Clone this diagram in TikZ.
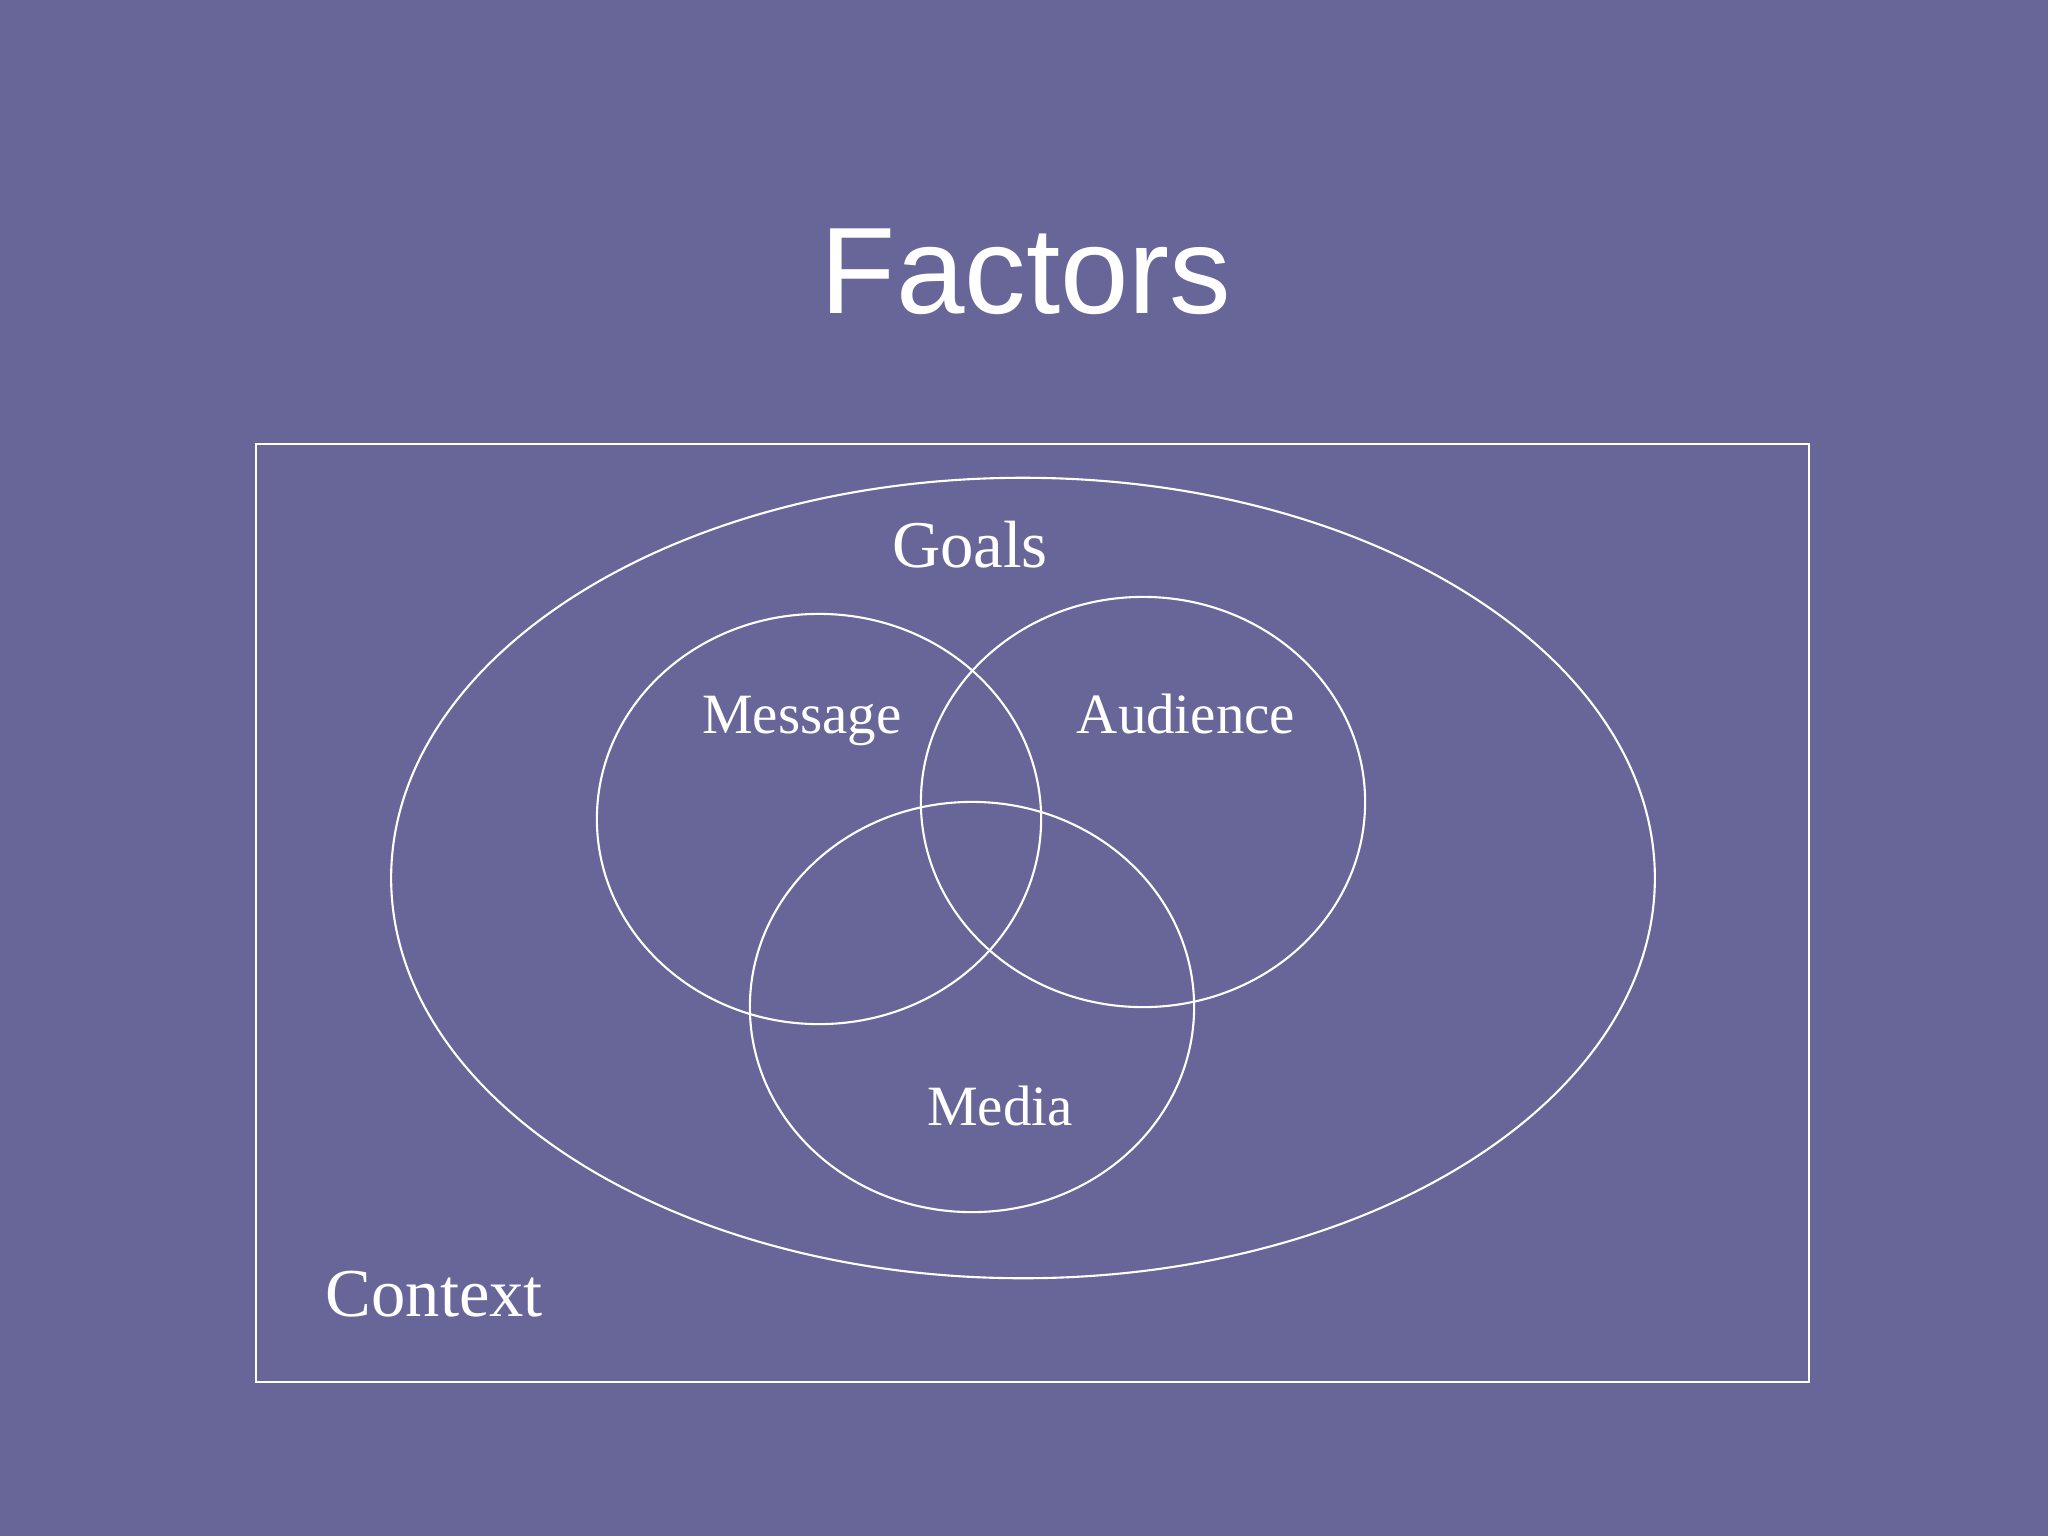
\documentclass[tikz,border=0pt]{standalone}
\usepackage{fontspec}
\setmainfont{Liberation Serif}
\newfontfamily\titlefont{Liberation Sans}
\definecolor{slidebg}{RGB}{104,102,153}

\begin{document}
\begin{tikzpicture}[x=0.01cm,y=-0.01cm,
	outline/.style={draw=white,line width=0.6pt},
	factor/.style={text=white,anchor=base,inner sep=0pt,font=\fontsize{16.2}{20}\selectfont}]
	\fill[slidebg] (0,0) rectangle (2048,1536);
	\useasboundingbox (0,0) rectangle (2048,1536);
	
	\node[anchor=base,text=white,inner sep=0pt,font=\titlefont\fontsize{35}{42}\selectfont] (title) at (1026,313) {Factors};
	
	% context box and goals
	\draw[outline] (256,444) rectangle (1809,1382);
	\draw[outline] (1023,878) ellipse [x radius=6.315cm, y radius=4cm];
	
	% the three circles
	\draw[outline] (819,819) ellipse [x radius=2.22cm, y radius=2.05cm];
	\draw[outline] (1143,802) ellipse [x radius=2.22cm, y radius=2.05cm];
	\draw[outline] (972,1007) ellipse [x radius=2.22cm, y radius=2.05cm];
	
	\node[factor,font=\fontsize{19}{23}\selectfont] (goals) at (970,567) {Goals};
	\node[factor] (msg) at (802,733) {Message};
	\node[factor] (aud) at (1186,733) {Audience};
	\node[factor] (media) at (1000,1125) {Media};
	\node[factor,anchor=base west,font=\fontsize{19.5}{23}\selectfont] (ctx) at (325,1316) {Context};
\end{tikzpicture}
\end{document}
